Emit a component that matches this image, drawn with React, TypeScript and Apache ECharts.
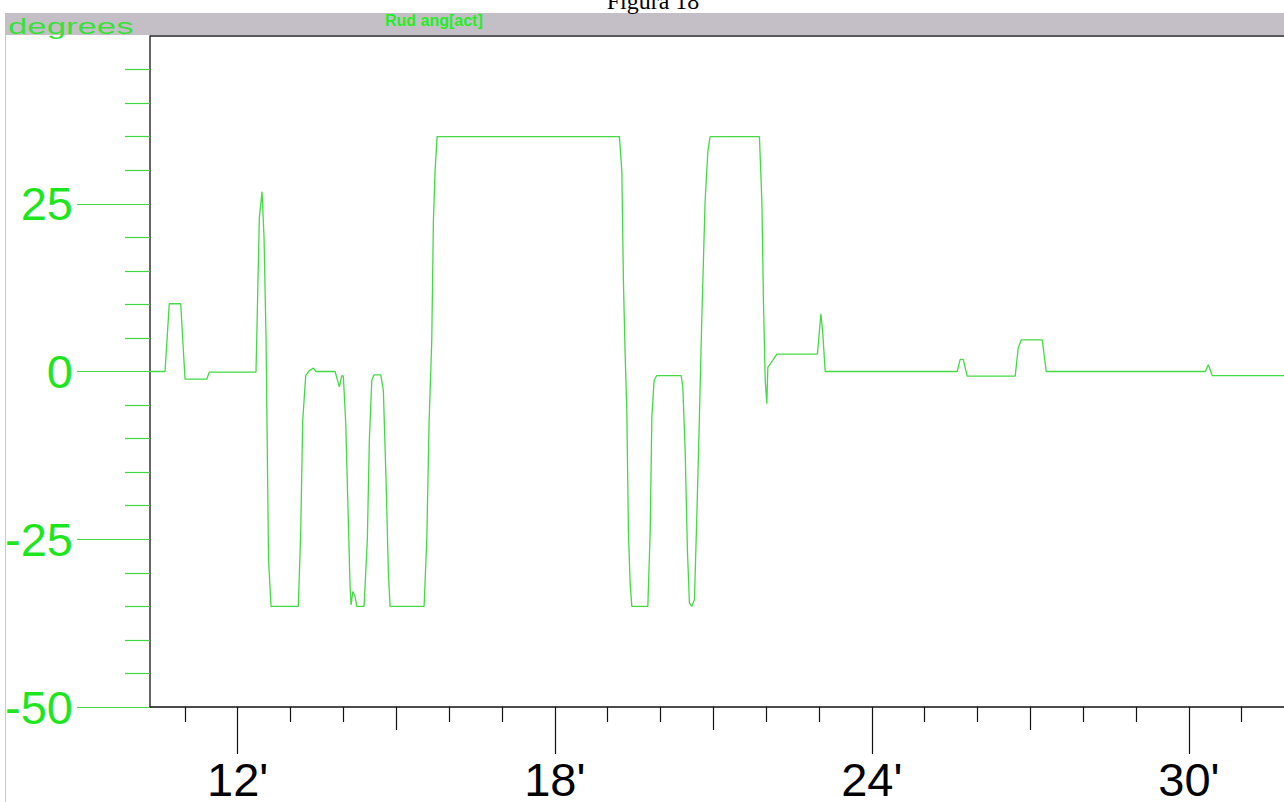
import React, { useEffect, useRef } from "react";
import * as echarts from "echarts";

// Rudder angle trace: time in minutes, angle in degrees
const minutes = [
  10.34, 10.624, 10.705, 10.921, 11.003, 11.413, 11.462, 12.346, 12.409, 12.46,
  12.498, 12.536, 12.583, 12.63, 13.147, 13.193, 13.23, 13.287, 13.35, 13.431,
  13.482, 13.842, 13.923, 13.969, 13.999, 14.044, 14.082, 14.126, 14.145, 14.177,
  14.22, 14.253, 14.391, 14.453, 14.491, 14.537, 14.58, 14.707, 14.756, 14.807,
  14.851, 14.883, 15.527, 15.578, 15.621, 15.672, 15.703, 15.735, 15.773, 19.223,
  19.269, 19.299, 19.331, 19.363, 19.394, 19.426, 19.458, 19.761, 19.805, 19.837,
  19.88, 19.931, 20.391, 20.423, 20.467, 20.51, 20.548, 20.594, 20.643, 20.688,
  20.737, 20.783, 20.845, 20.897, 20.94, 21.873, 21.919, 21.949, 21.982, 22.013,
  22.032, 22.076, 22.203, 22.971, 23.036, 23.073, 23.117, 25.615, 25.672, 25.729,
  25.805, 26.713, 26.77, 26.827, 27.225, 27.3, 30.31, 30.367, 30.442, 31.805,
];
const degrees = [
  0, 0, 10.1, 10.1, -1.15, -1.15, -0.1, -0.1, 22.9, 26.8,
  20, 5, -28, -35, -35, -23.6, -7.3, -0.6, 0.1, 0.5,
  0, 0, -2.3, -0.6, -0.7, -7.7, -19, -32, -34.8, -32.8,
  -33.5, -35, -35, -25, -10.3, -1.3, -0.5, -0.5, -2.8, -16.2,
  -30, -35, -35, -25, -7.7, 4.6, 22.4, 29.9, 35, 35,
  29.9, 13.5, 2.7, -5.8, -24, -31.5, -35, -35, -24, -6.8,
  -1.3, -0.6, -0.6, -2.3, -11.7, -26.6, -34.5, -35, -34, -21.6,
  -6.8, 8.1, 25.4, 32.8, 35, 35, 25.4, 10.5, -1.3, -4.8,
  0.6, 1.1, 2.6, 2.6, 8.6, 5.6, 0, 0, 1.8, 1.8,
  -0.7, -0.7, 3.5, 4.7, 4.7, 0, 0, 1.0, -0.6, -0.6,
];

// Axis ticks and labels
const xMajor = [12, 18, 24, 30];
const xMedium = [15, 21, 27];
const xMinor = [11, 13, 14, 16, 17, 19, 20, 22, 23, 25, 26, 28, 29, 31];
const yMajor = [-50, -25, 0, 25];
const yMinor = [-45, -40, -35, -30, -20, -15, -10, -5, 5, 10, 15, 20, 30, 35, 40, 45];

const X_MIN = 10.34;
const X_MAX = 31.8;
const GREEN_TEXT = "#1ee61e";
const GREEN_LINE = "#45d945";
const GREEN_TICK = "#3fd83f";

export default function App() {
  const ref = useRef<HTMLDivElement>(null);

  useEffect(() => {
    if (!ref.current) return;
    const chart = echarts.init(ref.current, undefined, { renderer: "svg" });

    const xBase = (ticks: number[], len: number) => ({
      type: "value",
      position: "bottom",
      min: X_MIN,
      max: X_MAX,
      axisLine: { show: false, onZero: false },
      splitLine: { show: false },
      axisLabel: { show: false },
      axisTick: {
        show: true,
        customValues: ticks,
        length: len,
        lineStyle: { color: "#111", width: 1.2 },
      },
    });

    chart.setOption({
      animation: false,
      backgroundColor: "#ffffff",
      grid: {
        left: 150,
        right: 0,
        top: 36,
        bottom: 95,
        containLabel: false,
        outerBoundsMode: "none",
      },
      xAxis: [
        {
          ...xBase(xMajor, 47),
          axisLine: { show: true, onZero: false, lineStyle: { color: "#111", width: 1.5 } },
          axisLabel: {
            show: true,
            customValues: xMajor,
            formatter: (v: number) => `${v}'`,
            margin: 52,
            color: "#000",
            fontSize: 47,
            lineHeight: 40,
            fontFamily: "Liberation Sans, Arial, sans-serif",
          },
        },
        xBase(xMedium, 23),
        xBase(xMinor, 15),
      ],
      yAxis: [
        {
          type: "value",
          position: "left",
          min: -50,
          max: 50,
          splitLine: { show: false },
          axisLine: { show: true, onZero: false, lineStyle: { color: "#333", width: 1.5 } },
          axisTick: {
            show: true,
            customValues: yMajor,
            length: 73,
            lineStyle: { color: GREEN_TICK, width: 1.2 },
          },
          axisLabel: {
            show: true,
            customValues: yMajor,
            margin: 77,
            color: GREEN_TEXT,
            fontSize: 47,
            fontFamily: "Liberation Sans, Arial, sans-serif",
          },
        },
        {
          type: "value",
          position: "left",
          min: -50,
          max: 50,
          splitLine: { show: false },
          axisLine: { show: false, onZero: false },
          axisLabel: { show: false },
          axisTick: {
            show: true,
            customValues: yMinor,
            length: 25,
            lineStyle: { color: GREEN_TICK, width: 1.2 },
          },
        },
      ],
      series: [
        {
          type: "line",
          xAxisIndex: 0,
          yAxisIndex: 0,
          showSymbol: false,
          data: minutes.map((m, i) => [m, degrees[i]]),
          lineStyle: { color: GREEN_LINE, width: 1.3 },
          itemStyle: { color: GREEN_LINE },
        },
      ],
      graphic: [
        {
          type: "line",
          z: 100,
          shape: { x1: 5.5, y1: 13, x2: 5.5, y2: 802 },
          style: { stroke: "#c9c9c9", lineWidth: 1 },
        },
        {
          type: "rect",
          z: 100,
          shape: { x: 5, y: 13, width: 1279, height: 22 },
          style: { fill: "#c4bfc7" },
        },
        {
          type: "line",
          z: 101,
          shape: { x1: 150, y1: 36, x2: 1284, y2: 36 },
          style: { stroke: "#222", lineWidth: 1.5 },
        },
        {
          type: "text",
          z: 102,
          x: 8,
          y: 15,
          scaleX: 1.58,
          style: {
            text: "degrees",
            fill: "#3ae03a",
            fontSize: 22,
            fontFamily: "Liberation Sans, Arial, sans-serif",
            verticalAlign: "top",
          },
        },
        {
          type: "text",
          z: 102,
          x: 385,
          y: 12,
          style: {
            text: "Rud ang[act]",
            fill: "#22ee22",
            fontSize: 16,
            fontWeight: "bold",
            fontFamily: "Liberation Sans Narrow, Liberation Sans, Arial, sans-serif",
            verticalAlign: "top",
          },
        },
        {
          type: "text",
          z: 102,
          x: 653,
          y: 13,
          style: {
            text: "Figura 18",
            fill: "#000",
            fontSize: 24,
            fontFamily: "Liberation Serif, Times New Roman, serif",
            align: "center",
            verticalAlign: "bottom",
          },
        },
      ],
    });

    return () => chart.dispose();
  }, []);

  return (
    <div
      ref={ref}
      style={{ position: "absolute", left: 0, top: 0, width: 1284, height: 802 }}
    />
  );
}
